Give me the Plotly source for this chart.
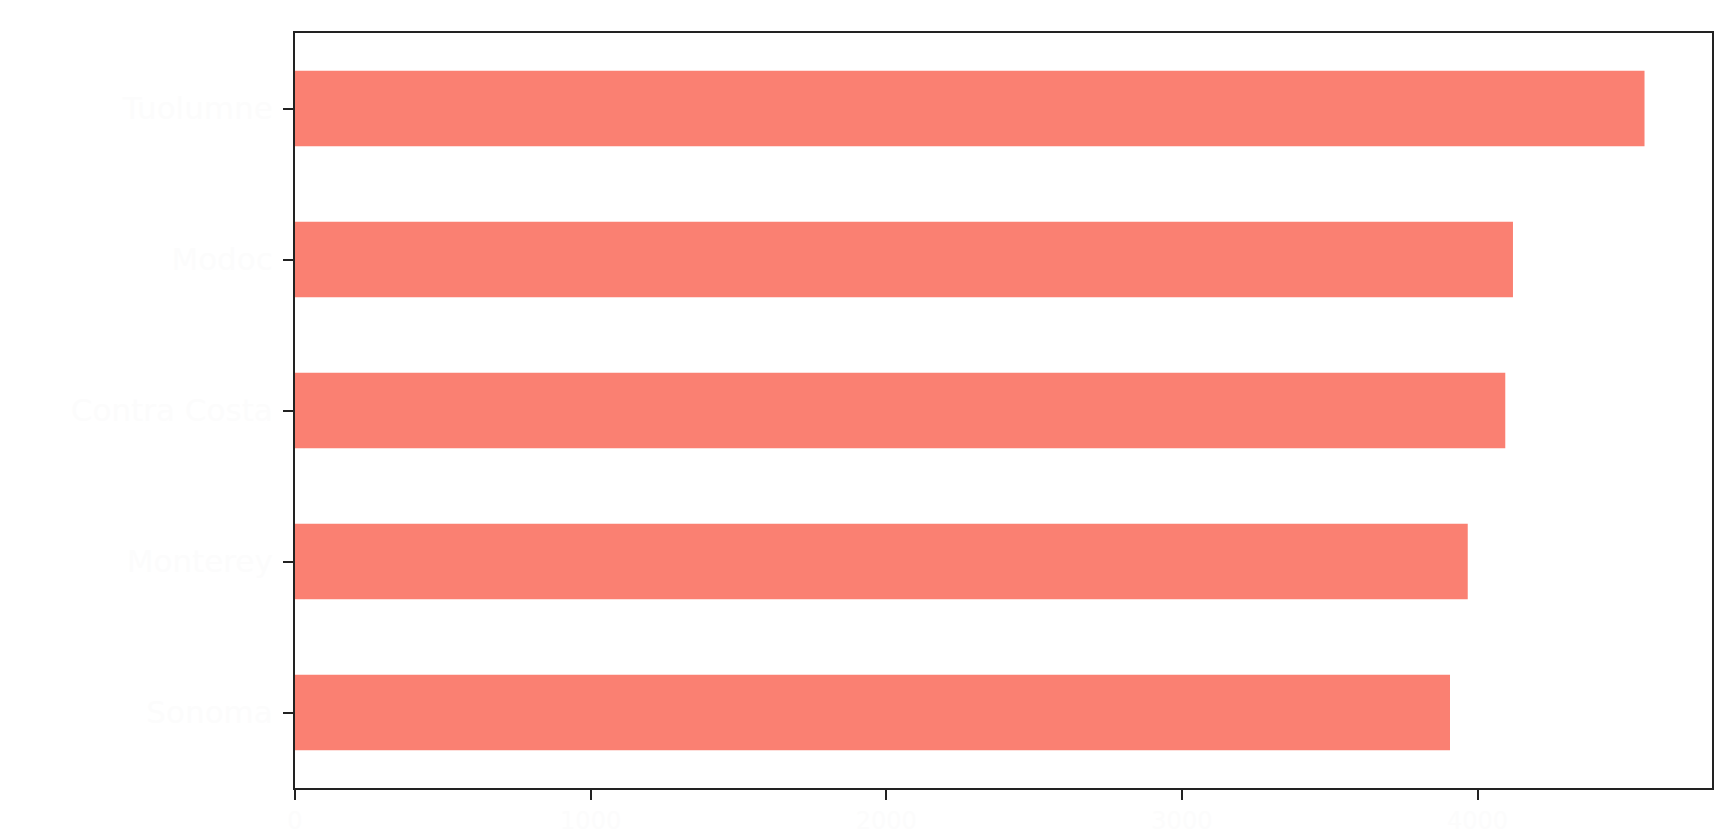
import plotly.graph_objects as go

counties = ["Tuolumne", "Modoc", "Contra Costa", "Monterey", "Sonoma"]
values = [4565, 4120, 4094, 3967, 3907]
x_ticks = [0, 1000, 2000, 3000, 4000]

bar_color = "#FA8072"
label_color = "#fcfcfc"

fig = go.Figure(
    go.Bar(
        y=counties,
        x=values,
        orientation="h",
        width=0.5,
        marker=dict(color=bar_color, line=dict(width=0)),
    )
)

xmax = max(values) * 1.05

fig.update_layout(
    width=1734,
    height=834,
    margin=dict(l=295, r=22, t=33, b=46),
    paper_bgcolor="white",
    plot_bgcolor="white",
    showlegend=False,
    font=dict(family="DejaVu Sans", size=31, color=label_color),
)
fig.update_xaxes(
    range=[0, xmax],
    tickvals=x_ticks,
    ticktext=[str(v) for v in x_ticks],
    ticks="outside",
    ticklen=10,
    tickwidth=2,
    tickcolor="#222",
    showline=True,
    linewidth=2,
    linecolor="#222",
    mirror=True,
    showgrid=False,
    zeroline=False,
    automargin=False,
    ticklabelstandoff=0,
    tickfont=dict(color=label_color, size=24),
)
fig.update_yaxes(
    type="category",
    categoryorder="array",
    categoryarray=counties,
    range=[4.5, -0.5],
    ticks="outside",
    ticklen=10,
    tickwidth=2,
    tickcolor="#222",
    showline=True,
    linewidth=2,
    linecolor="#222",
    mirror=True,
    showgrid=False,
    zeroline=False,
    automargin=False,
    ticklabelstandoff=4,
    tickfont=dict(color=label_color, size=31),
)

fig.write_html("out.html")
